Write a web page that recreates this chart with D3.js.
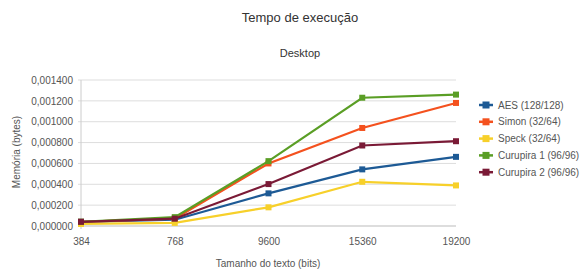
<!DOCTYPE html>
<html>
<head>
<meta charset="utf-8">
<script src="https://d3js.org/d3.v7.min.js"></script>
<style>
body { margin: 0; background: #fff; }
text { font-family: "Liberation Sans", Arial, sans-serif; fill: #444; }
</style>
</head>
<body>
<svg id="chart" width="587" height="271"></svg>
<script>
// dados
var categorias = ["384", "768", "9600", "15360", "19200"];
var aes      = [0.000040, 0.000060, 0.000313, 0.000543, 0.000663];
var simon    = [0.000040, 0.000070, 0.000600, 0.000940, 0.001180];
var speck    = [0.000020, 0.000030, 0.000179, 0.000424, 0.000389];
var curupira1 = [0.000041, 0.000085, 0.000622, 0.001230, 0.001260];
var curupira2 = [0.000040, 0.000070, 0.000402, 0.000772, 0.000813];
var nomes = ["AES (128/128)", "Simon (32/64)", "Speck (32/64)", "Curupira 1 (96/96)", "Curupira 2 (96/96)"];
var yTicks = [0, 0.0002, 0.0004, 0.0006, 0.0008, 0.001, 0.0012, 0.0014];

var series = [aes, simon, speck, curupira1, curupira2];
var cores = ["#1d5a95", "#f4511e", "#f7d02a", "#5a9e25", "#7a1a36"];

var svg = d3.select("#chart");
var pLeft = 81, pRight = 456, pTop = 80, pBottom = 226;

var x = d3.scalePoint().domain(categorias).range([pLeft, pRight]);
var y = d3.scaleLinear().domain([0, 0.0014]).range([pBottom, pTop]);

// grade
svg.append("g").selectAll("line")
    .data(yTicks)
    .enter()
    .append("line")
    .attr("x1", pLeft - 3)
    .attr("x2", pRight)
    .attr("y1", function(d){ return y(d); })
    .attr("y2", function(d){ return y(d); })
    .attr("stroke", function(d){ return d === 0 ? "#bbb" : "#ddd"; })
    .attr("stroke-width", 1);

svg.append("line")
    .attr("x1", pLeft).attr("x2", pLeft)
    .attr("y1", pTop).attr("y2", pBottom + 3)
    .attr("stroke", "#ccc");

// eixo y
var fmt = function(d){ return d.toFixed(6).replace(".", ","); };
svg.append("g")
    .attr("transform", "translate(" + (pLeft - 5) + ",0)")
    .call(d3.axisLeft(y).tickValues(yTicks).tickFormat(fmt).tickSize(0))
    .call(function(g){ g.select(".domain").remove(); })
    .selectAll("text")
    .attr("font-size", 10)
    .style("fill", "#555");

// eixo x
svg.append("g")
    .attr("transform", "translate(0," + (pBottom + 6) + ")")
    .call(d3.axisBottom(x).tickSize(0))
    .call(function(g){ g.select(".domain").remove(); })
    .selectAll("text")
    .attr("font-size", 10)
    .attr("dy", "1em")
    .style("fill", "#555");

// linhas
var linha = d3.line()
    .x(function(d, i){ return x(categorias[i]); })
    .y(function(d){ return y(d); });

series.forEach(function(s, k){
    svg.append("path")
        .datum(s)
        .attr("d", linha)
        .attr("fill", "none")
        .attr("stroke", cores[k])
        .attr("stroke-width", 2.2);
    svg.append("g").selectAll("rect")
        .data(s)
        .enter()
        .append("rect")
        .attr("x", function(d, i){ return x(categorias[i]) - 3; })
        .attr("y", function(d){ return y(d) - 3; })
        .attr("width", 6)
        .attr("height", 6)
        .attr("fill", cores[k]);
});

// legenda
var leg = svg.append("g").selectAll("g")
    .data(nomes)
    .enter()
    .append("g")
    .attr("transform", function(d, i){ return "translate(486," + (105 + i * 16.8) + ")"; });
leg.append("line")
    .attr("x1", -7).attr("x2", 7)
    .attr("stroke", function(d, i){ return cores[i]; })
    .attr("stroke-width", 2.5);
leg.append("rect")
    .attr("x", -3.5).attr("y", -3.5)
    .attr("width", 7).attr("height", 7)
    .attr("fill", function(d, i){ return cores[i]; });
leg.append("text")
    .attr("x", 12)
    .attr("dy", "0.35em")
    .attr("font-size", 10)
    .style("fill", "#555")
    .text(function(d){ return d; });

// titulos
svg.append("text")
    .attr("x", 300).attr("y", 22)
    .attr("text-anchor", "middle")
    .attr("font-size", 13)
    .style("fill", "#333")
    .text("Tempo de execução");
svg.append("text")
    .attr("x", 300).attr("y", 57)
    .attr("text-anchor", "middle")
    .attr("font-size", 11)
    .style("fill", "#333")
    .text("Desktop");
svg.append("text")
    .attr("x", 268).attr("y", 267)
    .attr("text-anchor", "middle")
    .attr("font-size", 10)
    .style("fill", "#555")
    .text("Tamanho do texto (bits)");
svg.append("text")
    .attr("transform", "translate(20,152) rotate(-90)")
    .attr("text-anchor", "middle")
    .attr("font-size", 10)
    .style("fill", "#555")
    .text("Memória (bytes)");
</script>
</body>
</html>
